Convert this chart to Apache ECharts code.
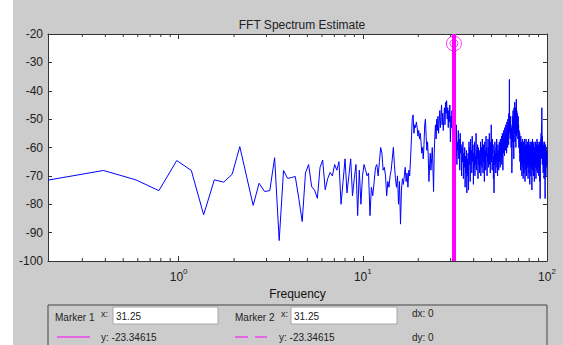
<!DOCTYPE html>
<html>
<head>
<meta charset="utf-8">
<script src="https://cdn.jsdelivr.net/npm/echarts@6/dist/echarts.min.js"></script>
<style>
  html, body { margin: 0; padding: 0; background: #fff; }
  #wrap { position: relative; width: 563px; height: 345px; }
  #figure { position: absolute; left: 13px; top: 0; width: 550px; height: 345px; background: #cccccc; }
  #chart { position: absolute; left: 0; top: 0; width: 563px; height: 345px; }
</style>
</head>
<body>
<div id="wrap">
  <div id="figure"></div>
  <div id="chart"></div>
</div>
<script>
// FFT bin spacing (Hz) and the marker readout shown under the plot
const binHz = 0.1953125;
const markerX = 31.25;
const markerY = -23.34615;

// Magnitude in dB, one value per FFT bin, starting at bin 1
const spectrumDb = [
  -71.5, -68.1, -71.4, -75.2, -64.6, -68.1, -83.7, -71.4, -72.2, -69.4,
  -59.7, -70.5, -80.4, -72.6, -75.5, -75.2, -63.6, -92.8, -68.1, -70.9,
  -70.6, -70.2, -78, -86.1, -69, -66, -73.8, -75, -77.9, -67,
  -64.4, -74.9, -71, -68.8, -70, -66, -68, -65, -80, -72,
  -64, -76, -70, -64, -77, -71, -66, -84, -68, -80,
  -70, -66, -68, -70, -69, -84, -74, -77, -72, -67,
  -66, -70, -65, -60, -62, -68, -67, -70, -77, -72,
  -74, -70, -68, -64, -60, -66, -71, -74, -70, -80,
  -72, -87, -75, -71, -73, -70, -67, -72, -69, -74,
  -68, -70, -64, -57, -50, -48.5, -55, -52, -53, -51,
  -53, -56, -54, -57, -55, -58, -62, -60, -64, -59,
  -52, -50, -56, -61, -58, -63, -72, -66, -62, -68,
  -64, -60, -67, -75.5, -62, -56, -52, -57, -50, -54,
  -49, -55, -51, -47, -53, -49, -45, -52, -48, -54,
  -50, -46, -52, -44, -48, -43.5, -50, -46, -53, -47,
  -51, -45, -58, -49, -53, -47, -55, -50, -52, -54,
  -60, -72, -56, -63, -52, -66, -58, -61, -54, -64,
  -57, -68, -55, -62, -59, -70, -60, -65, -58, -71,
  -62, -67, -60, -74, -63, -69, -61, -76, -64, -70,
  -62, -75, -58, -66, -60, -72, -57, -64, -61, -69,
  -56, -65, -59, -73, -62, -67, -58, -70, -63, -66,
  -55, -68, -61, -64, -59, -71, -60, -66, -62, -69,
  -61, -66, -58, -70, -63, -60, -67, -57, -64, -69,
  -59, -65, -62, -72, -58, -66, -61, -68, -56, -63,
  -60, -70, -62, -65, -57, -67, -60, -64, -55, -66,
  -61, -69, -58, -63, -52, -65, -60, -68, -57, -62,
  -59, -71, -63, -76, -61, -66, -58, -64, -62, -69,
  -60, -65, -57, -67, -62, -70, -59, -64, -61, -68,
  -62, -58, -65, -60, -67, -57, -63, -59, -66, -56,
  -61, -64, -55, -60, -68, -58, -62, -54, -60, -57,
  -63, -53, -59, -56, -61, -52, -58, -55, -62, -51,
  -57, -54, -60, -50, -56, -53, -59, -48, -55, -36,
  -54, -50, -57, -49, -56, -52, -60, -53, -58, -69,
  -62, -49, -58, -52, -47, -60, -50, -64, -46, -55,
  -52, -44, -58, -47, -55, -46, -60, -45, -43, -56,
  -47, -53, -48, -55, -50, -57, -49, -56, -52, -60,
  -54, -58, -62, -55, -65, -57, -61, -68, -56, -63,
  -59, -66, -58, -70, -60, -64, -57, -67, -61, -71,
  -60, -65, -58, -69, -62, -57, -66, -61, -72, -59,
  -64, -60, -68, -57, -63, -70, -59, -65, -61, -67,
  -58, -64, -62, -71, -60, -66, -57, -63, -69, -61,
  -65, -59, -73, -62, -58, -67, -60, -64, -70, -61,
  -66, -58, -63, -75, -60, -65, -57, -68, -62, -64,
  -59, -70, -61, -66, -58, -63, -72, -60, -65, -62,
  -64, -60, -67, -58, -63, -71, -61, -66, -59, -68,
  -62, -57, -65, -60, -69, -63, -58, -66, -61, -64,
  -59, -70, -62, -67, -60, -65, -58, -72, -61, -78,
  -63, -59, -66, -57, -62, -55, -64, -52, -60, -46,
  -58, -63, -56, -66, -60, -64, -58, -69, -61, -65,
  -59, -67, -62, -71, -60, -65, -58, -68, -63, -78,
  -61, -66, -59, -64, -70, -60, -67, -62, -65, -61,
  -66, -63
];

// axis ranges and tick labels
const xMin = binHz;
const xMax = 100;
const yMin = -100;
const yMax = -20;
const yStep = 10;
const xDecadeExponents = ["0", "1", "2"];
const xMinorTicks = [0.3, 0.4, 0.5, 0.6, 0.7, 0.8, 0.9, 2, 3, 4, 5, 6, 7, 8, 9, 20, 30, 40, 50, 60, 70, 80, 90];

const FONT = "Liberation Sans, Arial, sans-serif";
const AXIS = "#333333";
const MAGENTA = "#ff00ff";

const spectrum = spectrumDb.map((db, i) => [(i + 1) * binHz, db]);

function xAxisCfg(pos, labels) {
  return {
    type: "log",
    logBase: 10,
    position: pos,
    min: xMin,
    max: xMax,
    axisLine: { show: true, onZero: false, lineStyle: { color: AXIS, width: 1 } },
    axisTick: { show: true, inside: true, length: 5, lineStyle: { color: AXIS } },
    splitLine: { show: false },
    minorTick: { show: false },
    axisLabel: {
      show: labels,
      showMinLabel: false,
      margin: 6,
      formatter: (v) => {
        const e = Math.round(Math.log10(v));
        const s = xDecadeExponents[e];
        return s === undefined ? "" : "{b|10}{s|" + s + "}";
      },
      rich: {
        b: { fontSize: 12, fontFamily: FONT, color: "#222", verticalAlign: "bottom" },
        s: { fontSize: 8, fontFamily: FONT, color: "#222", verticalAlign: "bottom", padding: [0, 0, 8, 0] },
      },
    },
    name: labels ? "Frequency" : "",
    nameLocation: "middle",
    nameGap: 25,
    nameTextStyle: { fontSize: 12, fontFamily: FONT, color: "#111" },
  };
}

function yAxisCfg(pos, labels) {
  return {
    type: "value",
    position: pos,
    min: yMin,
    max: yMax,
    interval: yStep,
    axisLine: { show: true, lineStyle: { color: AXIS, width: 1 } },
    axisTick: { show: true, inside: true, length: 4, lineStyle: { color: AXIS } },
    splitLine: { show: false },
    axisLabel: { show: labels, margin: 5, fontSize: 12, fontFamily: FONT, color: "#222" },
  };
}

// panel under the plot with the two marker readouts
function txt(x, y, text, size) {
  return {
    type: "text", x: x, y: y,
    style: { text: text, fill: "#222", fontSize: size || 10, fontFamily: FONT, verticalAlign: "middle" },
  };
}
const panel = [
  { type: "rect", shape: { x: 48, y: 305, width: 499, height: 60 }, style: { fill: "none", stroke: "#444", lineWidth: 1 } },
  txt(55, 317, "Marker 1"),
  txt(101, 314, "x:", 9),
  { type: "rect", shape: { x: 113, y: 307, width: 105, height: 17 }, style: { fill: "#fff", stroke: "#a8a8a8", lineWidth: 1 } },
  txt(116, 316, String(markerX)),
  txt(235, 317, "Marker 2"),
  txt(281, 314, "x:", 9),
  { type: "rect", shape: { x: 291, y: 307, width: 106, height: 17 }, style: { fill: "#fff", stroke: "#a8a8a8", lineWidth: 1 } },
  txt(294, 316, String(markerX)),
  txt(412, 313, "dx: 0"),
  { type: "line", shape: { x1: 57, y1: 337, x2: 90, y2: 337 }, style: { stroke: MAGENTA, lineWidth: 1 } },
  txt(101, 337, "y: " + markerY),
  { type: "line", shape: { x1: 235, y1: 337, x2: 267, y2: 337 }, style: { stroke: MAGENTA, lineWidth: 1, lineDash: [13, 7] } },
  txt(279, 337, "y: " + markerY),
  txt(412, 337, "dy: 0"),
];

const chart = echarts.init(document.getElementById("chart"), null, { renderer: "svg" });
chart.setOption({
  animation: false,
  backgroundColor: "transparent",
  title: {
    text: "FFT Spectrum Estimate",
    left: 297,
    top: 14,
    textAlign: "center",
    textStyle: { fontSize: 12, fontWeight: "normal", fontFamily: FONT, color: "#222" },
  },
  grid: { left: 48, right: 16, top: 34, bottom: 84, show: true, backgroundColor: "#ffffff", borderWidth: 0 },
  xAxis: [xAxisCfg("bottom", true), xAxisCfg("top", false)],
  yAxis: [yAxisCfg("left", true), yAxisCfg("right", false)],
  graphic: panel,
  series: [
    {
      name: "Spectrum",
      type: "line",
      data: spectrum,
      showSymbol: false,
      clip: true,
      lineStyle: { color: "#0000ff", width: 1 },
      markLine: {
        silent: true,
        symbol: "none",
        label: { show: false },
        lineStyle: { color: MAGENTA, width: 4, type: "solid" },
        data: [{ xAxis: markerX }],
      },
    },
    {
      name: "Marker 1",
      type: "scatter",
      data: [[markerX, markerY]],
      symbol: "circle",
      symbolSize: 15,
      itemStyle: { color: "rgba(0,0,0,0)", borderColor: MAGENTA, borderWidth: 1 },
    },
    {
      name: "Marker 2",
      type: "scatter",
      data: [[markerX, markerY]],
      symbol: "circle",
      symbolSize: 8,
      itemStyle: { color: "rgba(0,0,0,0)", borderColor: MAGENTA, borderWidth: 1 },
    },
    {
      name: "minor ticks",
      type: "custom",
      silent: true,
      clip: false,
      data: xMinorTicks.map((f) => [f, yMax]),
      renderItem: (params, api) => {
        const top = api.coord([api.value(0), yMax]);
        const bot = api.coord([api.value(0), yMin]);
        const st = { stroke: AXIS, lineWidth: 1 };
        return {
          type: "group",
          children: [
            { type: "line", shape: { x1: top[0], y1: top[1], x2: top[0], y2: top[1] + 3 }, style: st },
            { type: "line", shape: { x1: bot[0], y1: bot[1], x2: bot[0], y2: bot[1] - 3 }, style: st },
          ],
        };
      },
    },
  ],
});
</script>
</body>
</html>
